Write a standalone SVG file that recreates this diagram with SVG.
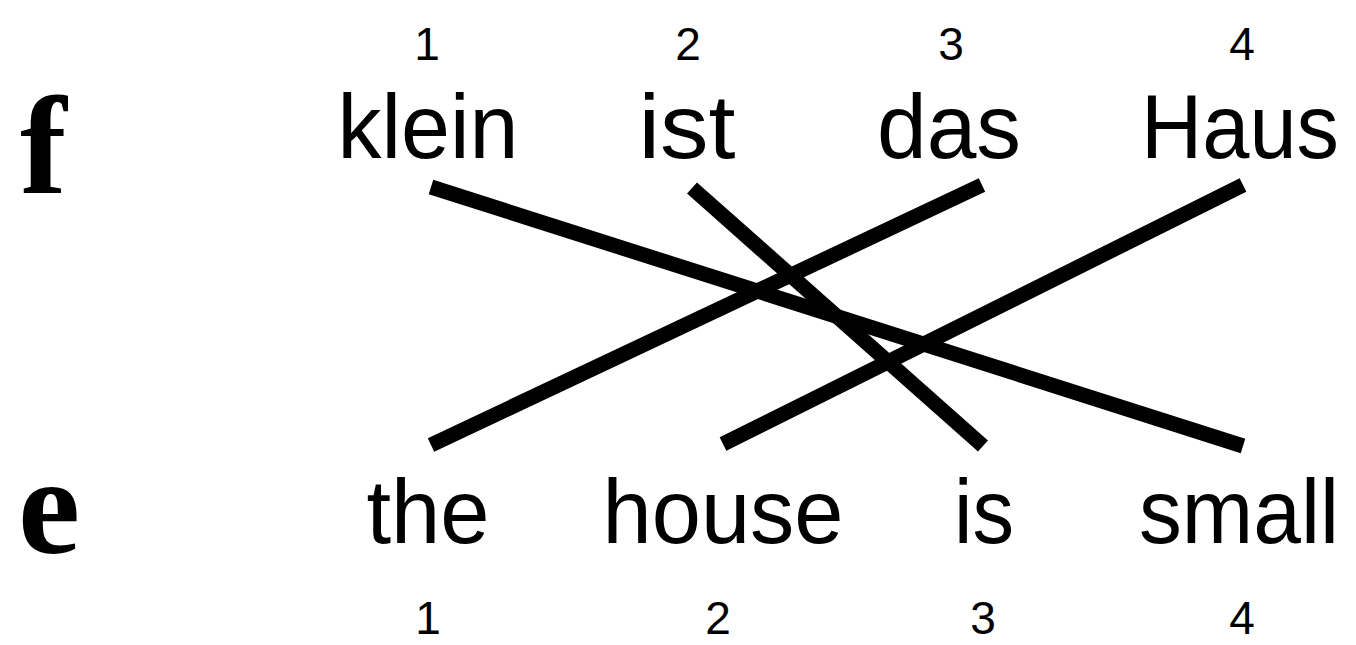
<svg xmlns="http://www.w3.org/2000/svg" width="1356" height="645" viewBox="0 0 1356 645">
<style>
.lbl{font-family:"Liberation Serif","Times New Roman",serif;font-weight:bold;font-size:140px;fill:#000}
.w{font-family:"Liberation Sans",Arial,Helvetica,sans-serif;font-size:90px;fill:#000;text-anchor:middle}
.n{font-family:"Liberation Sans",Arial,Helvetica,sans-serif;font-size:46px;fill:#000;text-anchor:middle}
.ln{stroke:#000;stroke-width:15;stroke-linecap:butt;fill:none}
</style>
<rect width="1356" height="645" fill="#fff"/>
<g id="label-f"><text class="lbl" x="20" y="193">f</text></g>
<g id="label-e"><text class="lbl" x="18" y="553">e</text></g>
<g id="f1"><text class="n" x="427" y="60">1</text><text class="w" x="428" y="158" textLength="181" lengthAdjust="spacingAndGlyphs">klein</text></g>
<g id="f2"><text class="n" x="688" y="60">2</text><text class="w" x="687" y="158" textLength="97" lengthAdjust="spacingAndGlyphs">ist</text></g>
<g id="f3"><text class="n" x="951" y="60">3</text><text class="w" x="949" y="158" textLength="144" lengthAdjust="spacingAndGlyphs">das</text></g>
<g id="f4"><text class="n" x="1242" y="60">4</text><text class="w" x="1240" y="158" textLength="198" lengthAdjust="spacingAndGlyphs">Haus</text></g>
<g id="e1"><text class="w" x="428" y="543" textLength="123" lengthAdjust="spacingAndGlyphs">the</text><text class="n" x="428" y="634">1</text></g>
<g id="e2"><text class="w" x="723" y="543" textLength="241" lengthAdjust="spacingAndGlyphs">house</text><text class="n" x="718" y="634">2</text></g>
<g id="e3"><text class="w" x="984" y="543" textLength="60" lengthAdjust="spacingAndGlyphs">is</text><text class="n" x="983" y="634">3</text></g>
<g id="e4"><text class="w" x="1239" y="543" textLength="200" lengthAdjust="spacingAndGlyphs">small</text><text class="n" x="1242" y="634">4</text></g>
<g id="connectors">
<line class="ln" x1="431" y1="187" x2="1243" y2="446"/>
<line class="ln" x1="692" y1="188" x2="983" y2="446"/>
<line class="ln" x1="982" y1="185" x2="431" y2="445"/>
<line class="ln" x1="1243" y1="185" x2="723" y2="444"/>
</g>
</svg>
